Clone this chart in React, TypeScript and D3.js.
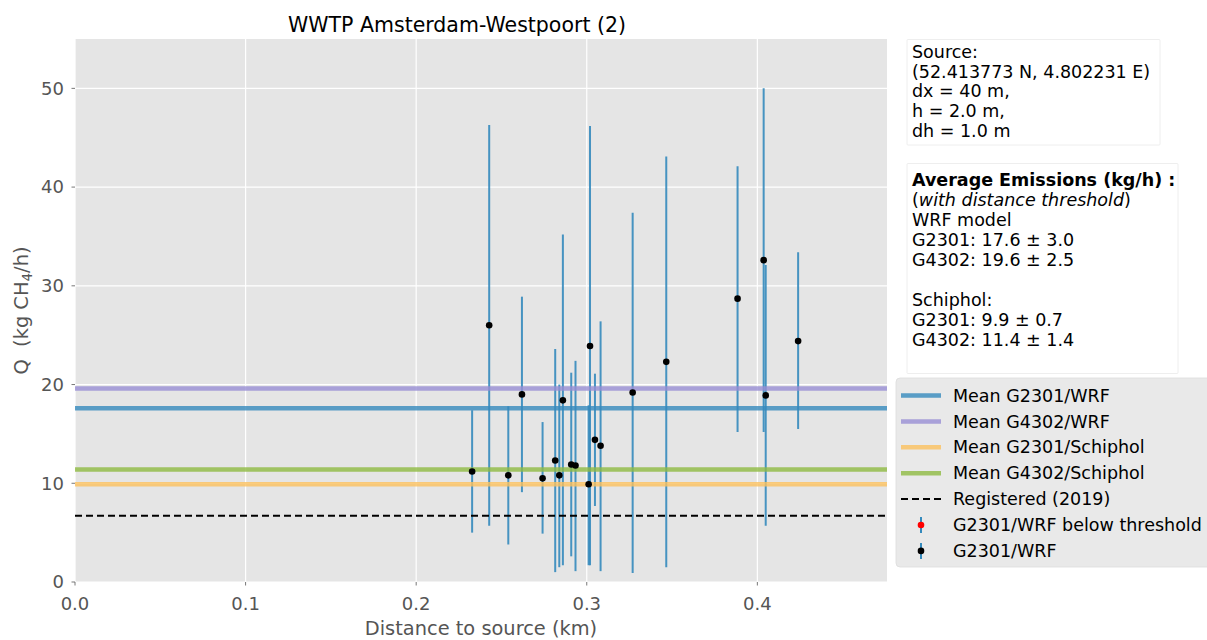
import React from "react";
import * as d3 from "d3";

const distances = [0.2328, 0.2428, 0.254, 0.262, 0.2741, 0.2815, 0.2839, 0.286, 0.2909, 0.2934, 0.3011, 0.3019, 0.3048, 0.3081, 0.3269, 0.3466, 0.3884, 0.4037, 0.4049, 0.4239];
const qValues = [11.2, 26.0, 10.8, 19.0, 10.5, 12.3, 10.8, 18.4, 11.9, 11.8, 9.9, 23.9, 14.4, 13.8, 19.2, 22.3, 28.7, 32.6, 18.9, 24.4];
const qLower = [5.0, 5.7, 3.8, 9.1, 4.9, 1.0, 1.5, 1.7, 2.6, 1.1, 1.7, 1.7, 7.7, 1.1, 0.9, 1.5, 15.2, 15.2, 5.7, 15.5];
const qUpper = [17.4, 46.3, 17.8, 28.9, 16.2, 23.6, 20.0, 35.2, 21.2, 22.4, 17.9, 46.2, 21.1, 26.4, 37.4, 43.1, 42.1, 50.0, 32.1, 33.4];

const meanLabels = ["Mean G2301/WRF", "Mean G4302/WRF", "Mean G2301/Schiphol", "Mean G4302/Schiphol"];
const meanValues = [17.6, 19.6, 9.9, 11.4];
const meanColors = ["#348ABD", "#988ED5", "#FBC15E", "#8EBA42"];
const registeredValue = 6.7;

const xTicks = [0.0, 0.1, 0.2, 0.3, 0.4];
const yTicks = [0, 10, 20, 30, 40, 50];

const sourceLines = ["Source:", "(52.413773 N, 4.802231 E)", "dx = 40 m,", "h = 2.0 m,", "dh = 1.0 m"];
const emissionLines = ["WRF model", "G2301: 17.6 \u00b1 3.0", "G4302: 19.6 \u00b1 2.5", "", "Schiphol:", "G2301: 9.9 \u00b1 0.7", "G4302: 11.4 \u00b1 1.4"];

const W = 1207;
const H = 640;
const M = { left: 75, right: 887, top: 39, bottom: 582 };
const FONT = "DejaVu Sans, sans-serif";
const TICK_COLOR = "#555555";
const ERR_COLOR = "#348ABD";
const TICK_FS = 18;
const LABEL_FS = 19.4;
const BOX_FS = 17.5;

export default function App() {
  const x = d3.scaleLinear().domain([0, 0.476]).range([M.left, M.right]);
  const y = d3.scaleLinear().domain([0, 55]).range([M.bottom, M.top]);

  const legendY0 = 395.5;
  const legendStep = 25.9;

  return (
    <svg
      width={W}
      height={H}
      style={{ position: "absolute", left: 0, top: 0, background: "#ffffff" }}
      fontFamily={FONT}
    >
      {/* plot background */}
      <rect x={M.left} y={M.top} width={M.right - M.left} height={M.bottom - M.top} fill="#E5E5E5" />
      {/* grid */}
      {xTicks.map((t) => (
        <line key={"gx" + t} x1={x(t)} x2={x(t)} y1={M.top} y2={M.bottom} stroke="#ffffff" strokeWidth={1.2} />
      ))}
      {yTicks.map((t) => (
        <line key={"gy" + t} x1={M.left} x2={M.right} y1={y(t)} y2={y(t)} stroke="#ffffff" strokeWidth={1.2} />
      ))}

      {/* error bars */}
      {distances.map((d, i) => (
        <line
          key={"eb" + i}
          x1={x(d)}
          x2={x(d)}
          y1={y(qLower[i])}
          y2={y(qUpper[i])}
          stroke={ERR_COLOR}
          strokeOpacity={0.9}
          strokeWidth={2}
        />
      ))}

      {/* mean lines */}
      {meanValues.map((v, i) => (
        <line
          key={"ml" + i}
          x1={M.left}
          x2={M.right}
          y1={y(v)}
          y2={y(v)}
          stroke={meanColors[i]}
          strokeOpacity={0.8}
          strokeWidth={4.5}
        />
      ))}
      <line
        x1={M.left}
        x2={M.right}
        y1={y(registeredValue)}
        y2={y(registeredValue)}
        stroke="#000"
        strokeWidth={2}
        strokeDasharray="7,4"
      />

      {/* points */}
      {distances.map((d, i) => (
        <circle key={"pt" + i} cx={x(d)} cy={y(qValues[i])} r={3.3} fill="#000" />
      ))}

      {/* x ticks */}
      {xTicks.map((t) => (
        <g key={"xt" + t}>
          <line x1={x(t)} x2={x(t)} y1={M.bottom} y2={M.bottom + 3.5} stroke={TICK_COLOR} strokeWidth={0.8} />
          <text x={x(t)} y={610} textAnchor="middle" fontSize={TICK_FS} fill={TICK_COLOR}>
            {d3.format(".1f")(t)}
          </text>
        </g>
      ))}
      {/* y ticks */}
      {yTicks.map((t) => (
        <g key={"yt" + t}>
          <line x1={M.left - 3.5} x2={M.left} y1={y(t)} y2={y(t)} stroke={TICK_COLOR} strokeWidth={0.8} />
          <text x={M.left - 11} y={y(t)} dy="0.35em" textAnchor="end" fontSize={TICK_FS} fill={TICK_COLOR}>
            {t}
          </text>
        </g>
      ))}

      {/* axis labels */}
      <text x={(M.left + M.right) / 2} y={635} textAnchor="middle" fontSize={LABEL_FS} fill={TICK_COLOR}>
        Distance to source (km)
      </text>
      <text
        transform={`translate(28,${(M.top + M.bottom) / 2}) rotate(-90)`}
        textAnchor="middle"
        fontSize={LABEL_FS}
        fill={TICK_COLOR}
        style={{ whiteSpace: "pre" }}
      >
        <tspan>{"Q  (kg CH"}</tspan>
        <tspan fontSize={13.5} dy={4}>4</tspan>
        <tspan dy={-4}>/h)</tspan>
      </text>

      {/* title */}
      <text x={457} y={32} textAnchor="middle" fontSize={20.5} fill="#000">
        WWTP Amsterdam-Westpoort (2)
      </text>

      {/* source box */}
      <rect x={907} y={39.5} width={253} height={105.5} fill="#fff" stroke="#eeeeee" strokeWidth={1} rx={1} />
      {sourceLines.map((s, i) => (
        <text key={"sl" + i} x={912} y={51.5 + i * 19.9} dy="0.35em" fontSize={BOX_FS} fill="#000">
          {s}
        </text>
      ))}

      {/* emissions box */}
      <rect x={907} y={163.5} width={271} height={210} fill="#fff" stroke="#eeeeee" strokeWidth={1} rx={1} />
      <text x={912} y={180} dy="0.35em" fontSize={BOX_FS} fontWeight="bold" fill="#000" style={{ whiteSpace: "pre" }}>
        {"Average Emissions (kg/h) :"}
      </text>
      <text x={912} y={200} dy="0.35em" fontSize={BOX_FS} fill="#000">
        (<tspan fontStyle="italic">with distance threshold</tspan>)
      </text>
      {emissionLines.map((s, i) => (
        <text key={"el" + i} x={912} y={220 + i * 20} dy="0.35em" fontSize={BOX_FS} fill="#000">
          {s}
        </text>
      ))}

      {/* legend */}
      <rect x={896} y={378} width={320} height={189} rx={4} fill="#E5E5E5" fillOpacity={0.85} stroke="#dcdcdc" strokeWidth={0.8} />
      {meanLabels.map((s, i) => (
        <g key={"lg" + i}>
          <line
            x1={901}
            x2={941}
            y1={legendY0 + i * legendStep}
            y2={legendY0 + i * legendStep}
            stroke={meanColors[i]}
            strokeOpacity={0.8}
            strokeWidth={4.5}
          />
          <text x={953} y={legendY0 + i * legendStep} dy="0.35em" fontSize={BOX_FS} fill="#000">
            {s}
          </text>
        </g>
      ))}
      <line
        x1={901}
        x2={941}
        y1={legendY0 + 4 * legendStep}
        y2={legendY0 + 4 * legendStep}
        stroke="#000"
        strokeWidth={2}
        strokeDasharray="7,4"
      />
      <text x={953} y={legendY0 + 4 * legendStep} dy="0.35em" fontSize={BOX_FS} fill="#000">
        Registered (2019)
      </text>
      {[
        { label: "G2301/WRF below threshold", color: "#ff0000" },
        { label: "G2301/WRF", color: "#000000" },
      ].map((e, k) => {
        const cy = legendY0 + (5 + k) * legendStep;
        return (
          <g key={"lp" + k}>
            <line x1={921} x2={921} y1={cy - 8} y2={cy + 8} stroke={ERR_COLOR} strokeWidth={2} />
            <circle cx={921} cy={cy} r={3.3} fill={e.color} />
            <text x={953} y={cy} dy="0.35em" fontSize={BOX_FS} fill="#000">
              {e.label}
            </text>
          </g>
        );
      })}
    </svg>
  );
}
